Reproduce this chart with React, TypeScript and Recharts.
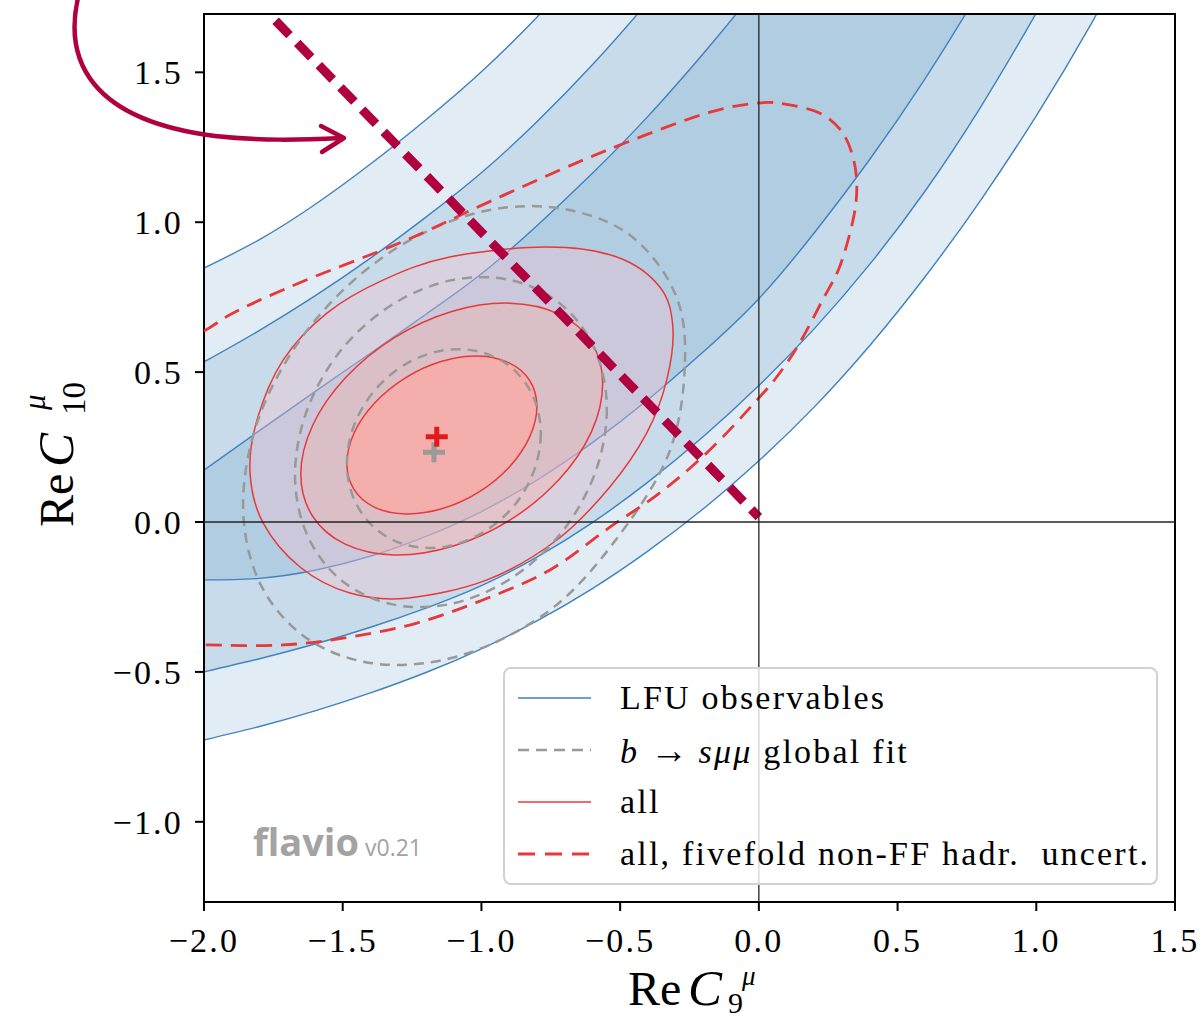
import {
  Area,
  ComposedChart,
  Line,
  ReferenceArea,
  ReferenceLine,
  Scatter,
  XAxis,
  YAxis,
} from "recharts";

type Pt = [number, number];

const SERIF = "'Liberation Serif', 'Times New Roman', serif";

const xDomain: [number, number] = [-2, 1.5];
const yDomain: [number, number] = [-1.2675, 1.6945];
const xTicks = [-2, -1.5, -1, -0.5, 0, 0.5, 1, 1.5];
const yTicks = [-1, -0.5, 0, 0.5, 1, 1.5];

// LFU observables: band edges sampled on a common Re C9 grid (upper edges run past the top of the axes)
const bandX = [-2.0, -1.8, -1.6, -1.4, -1.2, -1.0, -0.8, -0.6, -0.4, -0.2, 0.0, 0.2, 0.4, 0.6, 0.8, 1.0, 1.2, 1.4, 1.5];
const lfu3Upper = [0.847, 0.942, 1.059, 1.194, 1.342, 1.502, 1.684, 1.885, 2.105, 2.348, 2.608, 2.89, 3.19, 3.5, 3.82, 4.15, 4.49, 4.84, 5.02];
const lfu2Upper = [0.534, 0.639, 0.754, 0.88, 1.017, 1.165, 1.335, 1.525, 1.735, 1.967, 2.235, 2.525, 2.83, 3.15, 3.48, 3.82, 4.17, 4.53, 4.72];
const lfu1Upper = [0.173, 0.305, 0.435, 0.563, 0.693, 0.828, 0.988, 1.163, 1.353, 1.563, 1.791, 2.052, 2.325, 2.61, 2.91, 3.22, 3.54, 3.87, 4.04];
const lfu1Lower = [-0.193, -0.188, -0.161, -0.114, -0.048, 0.035, 0.14, 0.265, 0.408, 0.568, 0.745, 0.965, 1.21, 1.48, 1.78, 2.108, 2.448, 2.798, 2.978];
const lfu2Lower = [-0.5, -0.456, -0.407, -0.351, -0.287, -0.212, -0.117, -0.002, 0.133, 0.285, 0.455, 0.645, 0.86, 1.105, 1.385, 1.698, 2.033, 2.383, 2.563];
const lfu3Lower = [-0.727, -0.682, -0.63, -0.57, -0.502, -0.423, -0.33, -0.222, -0.097, 0.044, 0.204, 0.384, 0.589, 0.819, 1.074, 1.355, 1.665, 2.005, 2.185];

// "all" contours (1, 2, 3 sigma), points taken round each closed curve
const all1: Pt[] = [
  [-0.8, 0.385], [-0.826, 0.284], [-0.9, 0.183], [-1.011, 0.099], [-1.143, 0.044], [-1.274, 0.027],
  [-1.385, 0.049], [-1.459, 0.108], [-1.485, 0.195], [-1.459, 0.297], [-1.385, 0.397], [-1.274, 0.481],
  [-1.143, 0.536], [-1.011, 0.554], [-0.9, 0.531], [-0.826, 0.472],
];
const all2: Pt[] = [
  [-0.563, 0.462], [-0.604, 0.3], [-0.722, 0.14], [-0.898, 0.006], [-1.107, -0.082], [-1.315, -0.11],
  [-1.491, -0.074], [-1.609, 0.02], [-1.651, 0.159], [-1.609, 0.321], [-1.491, 0.48], [-1.315, 0.614],
  [-1.107, 0.702], [-0.898, 0.73], [-0.722, 0.694], [-0.604, 0.6],
];
const all3: Pt[] = [
  [-1.834, 0.163], [-1.809, 0.34], [-1.715, 0.54], [-1.557, 0.697], [-1.355, 0.807], [-1.114, 0.884],
  [-0.764, 0.917], [-0.512, 0.884], [-0.357, 0.784], [-0.31, 0.65], [-0.332, 0.474], [-0.404, 0.297],
  [-0.537, 0.117], [-0.728, -0.06], [-0.98, -0.193], [-1.269, -0.254], [-1.474, -0.237], [-1.654, -0.15],
  [-1.787, -0.003],
];

// b -> s mu mu global fit contours
const global1: Pt[] = [
  [-0.786, 0.295], [-0.813, 0.165], [-0.888, 0.048], [-1.002, -0.039], [-1.135, -0.083], [-1.269, -0.077],
  [-1.382, -0.022], [-1.458, 0.074], [-1.485, 0.195], [-1.458, 0.325], [-1.382, 0.442], [-1.269, 0.529],
  [-1.135, 0.573], [-1.002, 0.567], [-0.888, 0.512], [-0.813, 0.417],
];
const global2: Pt[] = [
  [-0.548, 0.377], [-0.591, 0.162], [-0.713, -0.037], [-0.895, -0.189], [-1.11, -0.273], [-1.325, -0.274],
  [-1.508, -0.192], [-1.629, -0.041], [-1.672, 0.157], [-1.629, 0.372], [-1.508, 0.571], [-1.325, 0.723],
  [-1.11, 0.806], [-0.895, 0.807], [-0.713, 0.726], [-0.591, 0.575],
];
const global3: Pt[] = [
  [-0.267, 0.518], [-0.328, 0.221], [-0.53, -0.077], [-0.759, -0.298], [-1.063, -0.442], [-1.368, -0.474],
  [-1.626, -0.39], [-1.799, -0.203], [-1.859, 0.059], [-1.799, 0.356], [-1.626, 0.642], [-1.368, 0.875],
  [-1.063, 1.019], [-0.759, 1.051], [-0.48, 0.967], [-0.303, 0.764],
];

// "all" with fivefold non-FF hadronic uncertainties (left end lies outside the axes)
const allFivefold: Pt[] = [
  [-2.0, 0.637], [-1.881, 0.704], [-1.64, 0.804], [-1.279, 0.937], [-0.998, 1.057], [-0.717, 1.174],
  [-0.483, 1.264], [-0.188, 1.364], [0.003, 1.398], [0.111, 1.391], [0.226, 1.361], [0.302, 1.298],
  [0.342, 1.207], [0.353, 1.107], [0.338, 1.001], [0.291, 0.851], [0.23, 0.741], [0.147, 0.597],
  [0.075, 0.497], [0.003, 0.417], [-0.177, 0.24], [-0.357, 0.097], [-0.537, -0.017], [-0.753, -0.16],
  [-0.995, -0.26], [-1.233, -0.337], [-1.474, -0.384], [-1.715, -0.41], [-2.0, -0.41], [-2.231, -0.404],
  [-2.447, -0.36], [-2.627, -0.26], [-2.735, -0.127], [-2.771, 0.04], [-2.699, 0.207], [-2.555, 0.34],
  [-2.375, 0.447], [-2.195, 0.54],
];

const bestFitAll = [{ x: -1.161, y: 0.284 }];
const bestFitGlobal = [{ x: -1.171, y: 0.233 }];

// hand-drawn guide line across the plane
const guideLine: Pt[] = [[-1.742, 1.672], [0.0, 0.016]];

const legendEntries = [
  { key: "lfu", label: "LFU observables", stroke: "#3f82bf", width: 1.6, dash: undefined },
  { key: "global", label: "global", stroke: "#999999", width: 2.6, dash: "11 7" },
  { key: "all", label: "all", stroke: "#e8393a", width: 1.6, dash: undefined },
  { key: "five", label: "all, fivefold non-FF hadr.  uncert.", stroke: "#e8393a", width: 3, dash: "17 10" },
];

const toPoints = (pts: Pt[]) => pts.map(([x, y]) => ({ x, y }));
const toBand = (lo: number[], hi: number[]) => bandX.map((x, i) => ({ x, range: [lo[i], hi[i]] }));

// closed Catmull-Rom curve for the contour outlines
function closedSpline(context: any) {
  let pts: Pt[] = [];
  return {
    areaStart() {},
    areaEnd() {},
    lineStart() {
      pts = [];
    },
    point(x: number, y: number) {
      pts.push([x, y]);
    },
    lineEnd() {
      const n = pts.length;
      if (n < 3) return;
      context.moveTo(pts[0][0], pts[0][1]);
      for (let i = 0; i < n; i++) {
        const p0 = pts[(i - 1 + n) % n];
        const p1 = pts[i];
        const p2 = pts[(i + 1) % n];
        const p3 = pts[(i + 2) % n];
        context.bezierCurveTo(
          p1[0] + (p2[0] - p0[0]) / 6,
          p1[1] + (p2[1] - p0[1]) / 6,
          p2[0] - (p3[0] - p1[0]) / 6,
          p2[1] - (p3[1] - p1[1]) / 6,
          p2[0],
          p2[1]
        );
      }
      context.closePath();
    },
  };
}

function plus(color: string) {
  return (props: any) => {
    const { cx, cy } = props;
    return (
      <path
        d={`M${cx - 11},${cy}H${cx + 11}M${cx},${cy - 10}V${cy + 10}`}
        stroke={color}
        strokeWidth={5}
        fill="none"
      />
    );
  };
}

const fmtTick = (v: number) => (v < 0 ? "\u2212" : "") + Math.abs(v).toFixed(1);

function XTitle(props: any) {
  const vb = props.viewBox ?? { x: 204, y: 902 };
  const x0 = vb.x + 424;
  const base = vb.y + 103;
  return (
    <g fontFamily={SERIF} fill="#000">
      <text x={x0} y={base} fontSize={48}>Re</text>
      <text x={x0 + 60} y={base} fontSize={51} fontStyle="italic">C</text>
      <text x={x0 + 114} y={base - 20} fontSize={27} fontStyle="italic">μ</text>
      <text x={x0 + 100} y={base + 8} fontSize={30}>9</text>
    </g>
  );
}

function YTitle(props: any) {
  const vb = props.viewBox ?? { x: 104, y: 14 };
  const ax = vb.x - 31;
  const ay = vb.y + 513;
  return (
    <g transform={`rotate(-90 ${ax} ${ay})`} fontFamily={SERIF} fill="#000">
      <text x={ax} y={ay} fontSize={48}>Re</text>
      <text x={ax + 60} y={ay} fontSize={51} fontStyle="italic">C</text>
      <text x={ax + 117} y={ay - 28} fontSize={31} fontStyle="italic">μ</text>
      <text x={ax + 112} y={ay + 12} fontSize={33}>10</text>
    </g>
  );
}

const css = `
.fill-all3 .recharts-line-curve { fill: #f7c0cd; fill-opacity: 0.36; }
.fill-all2 .recharts-line-curve { fill: #f4b3ad; fill-opacity: 0.42; }
.fill-all1 .recharts-line-curve { fill: #ffa6a0; fill-opacity: 0.7; }
`;

const tickStyle = { fill: "#000", fontSize: 34, fontFamily: SERIF, letterSpacing: 2.2 };

function LegendBox() {
  return (
    <div
      style={{
        position: "absolute",
        left: 503,
        top: 667,
        width: 655,
        height: 218,
        boxSizing: "border-box",
        border: "2px solid #d2d2d2",
        borderRadius: 8,
        background: "rgba(255,255,255,0.8)",
        fontFamily: SERIF,
        fontSize: 34,
        letterSpacing: 2.2,
        color: "#000",
      }}
    >
      {legendEntries.map((e, i) => (
        <div
          key={e.key}
          style={{ position: "absolute", left: 12, top: 3 + i * 52, height: 52, display: "flex", alignItems: "center", whiteSpace: "pre" }}
        >
          <svg width={75} height={10} style={{ marginRight: 28 }}>
            <line x1={1} x2={74} y1={5} y2={5} stroke={e.stroke} strokeWidth={e.width} strokeDasharray={e.dash} />
          </svg>
          {e.key === "global" ? (
            <span>
              <i>b</i> <span style={{ fontSize: 38, letterSpacing: 0 }}>→</span> <i>sμμ</i> global fit
            </span>
          ) : (
            <span>{e.label}</span>
          )}
        </div>
      ))}
    </div>
  );
}

export default function App() {
  const lineCommon = { isAnimationActive: false, dot: false, activeDot: false, legendType: "none" as const };
  return (
    <div style={{ position: "absolute", left: 0, top: 0, width: 1202, height: 1021, background: "#fff", overflow: "hidden" }}>
      <style>{css}</style>
      <ComposedChart width={1202} height={1021} margin={{ top: 14, right: 27, bottom: 59, left: 104 }}>
        <XAxis
          type="number"
          dataKey="x"
          domain={xDomain}
          ticks={xTicks}
          allowDataOverflow
          tickFormatter={fmtTick}
          tick={tickStyle}
          tickSize={9}
          tickMargin={17}
          tickLine={{ stroke: "#000", strokeWidth: 2 }}
          axisLine={false}
          height={60}
          label={XTitle}
        />
        <YAxis
          type="number"
          domain={yDomain}
          ticks={yTicks}
          allowDataOverflow
          tickFormatter={fmtTick}
          tick={tickStyle}
          tickSize={9}
          tickMargin={12}
          tickLine={{ stroke: "#000", strokeWidth: 2 }}
          axisLine={false}
          width={100}
          label={YTitle}
        />

        <Area data={toBand(lfu3Lower, lfu3Upper)} dataKey="range" type="natural" fill="#377eb8" fillOpacity={0.15} stroke="#3f82bf" strokeWidth={1.4} isAnimationActive={false} legendType="none" />
        <Area data={toBand(lfu2Lower, lfu2Upper)} dataKey="range" type="natural" fill="#377eb8" fillOpacity={0.15} stroke="#3f82bf" strokeWidth={1.4} isAnimationActive={false} legendType="none" />
        <Area data={toBand(lfu1Lower, lfu1Upper)} dataKey="range" type="natural" fill="#377eb8" fillOpacity={0.15} stroke="#3f82bf" strokeWidth={1.4} isAnimationActive={false} legendType="none" />

        <Line {...lineCommon} className="fill-all3" data={toPoints(all3)} dataKey="y" type={closedSpline as any} stroke="#e8393a" strokeWidth={1.5} />
        <Line {...lineCommon} className="fill-all2" data={toPoints(all2)} dataKey="y" type={closedSpline as any} stroke="#e8393a" strokeWidth={1.5} />
        <Line {...lineCommon} className="fill-all1" data={toPoints(all1)} dataKey="y" type={closedSpline as any} stroke="#e8393a" strokeWidth={1.5} />

        <Line {...lineCommon} data={toPoints(global3)} dataKey="y" type={closedSpline as any} stroke="#999" strokeWidth={2.5} strokeDasharray="10 7" />
        <Line {...lineCommon} data={toPoints(global2)} dataKey="y" type={closedSpline as any} stroke="#999" strokeWidth={2.5} strokeDasharray="10 7" />
        <Line {...lineCommon} data={toPoints(global1)} dataKey="y" type={closedSpline as any} stroke="#999" strokeWidth={2.5} strokeDasharray="10 7" />

        <Line {...lineCommon} data={toPoints(allFivefold)} dataKey="y" type={closedSpline as any} stroke="#e8393a" strokeWidth={2.8} strokeDasharray="16 9" />

        <Line {...lineCommon} data={toPoints(guideLine)} dataKey="y" type="linear" stroke="#b0003f" strokeWidth={9} strokeDasharray="20 11" />

        <ReferenceLine x={0} stroke="#222" strokeWidth={1.3} />
        <ReferenceLine y={0} stroke="#222" strokeWidth={1.3} />

        <Scatter data={bestFitGlobal} dataKey="y" shape={plus("#9a9a9a")} isAnimationActive={false} legendType="none" />
        <Scatter data={bestFitAll} dataKey="y" shape={plus("#e31a1c")} isAnimationActive={false} legendType="none" />

        <ReferenceArea x1={xDomain[0]} x2={xDomain[1]} y1={yDomain[0]} y2={yDomain[1]} fill="none" stroke="#000" strokeWidth={2} ifOverflow="visible" />
      </ComposedChart>

      <svg width={1202} height={1021} style={{ position: "absolute", left: 0, top: 0, pointerEvents: "none" }}>
        <path d="M78,-2 C64,60 90,120 215,136 C260,141 300,140 342,138" fill="none" stroke="#b0003f" strokeWidth={4.5} strokeLinecap="round" />
        <path d="M321,126 L344,138 L322,152" fill="none" stroke="#b0003f" strokeWidth={4.5} strokeLinecap="round" strokeLinejoin="round" />
        <text x={253} y={856} fontFamily="'Open Sans', sans-serif" fontWeight={700} fontSize={38} fill="#a3a3a3">flavio</text>
        <text x={365} y={856} fontFamily="'Open Sans', sans-serif" fontSize={23} fill="#a3a3a3">v0.21</text>
      </svg>

      <LegendBox />
    </div>
  );
}
